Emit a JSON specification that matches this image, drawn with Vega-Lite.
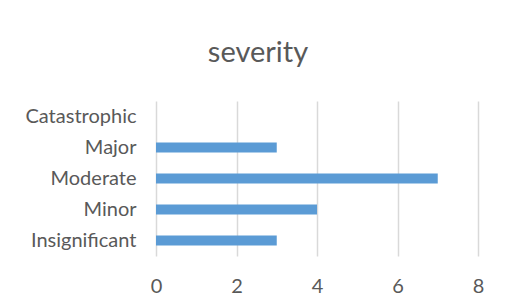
{
  "$schema": "https://vega.github.io/schema/vega-lite/v6.json",
  "autosize": {"type": "none"},
  "padding": {"left": 156, "top": 101, "right": 29, "bottom": 51},
  "width": 322,
  "height": 155,
  "background": "white",
  "title": {
    "text": "severity",
    "anchor": "middle",
    "frame": "group",
    "dx": -59,
    "offset": 10,
    "baseline": "alphabetic",
    "font": "Lato",
    "fontSize": 29,
    "fontWeight": "normal",
    "color": "#595959"
  },
  "data": {
    "values": [
      {"severity": "Catastrophic", "count": 0},
      {"severity": "Major", "count": 3},
      {"severity": "Moderate", "count": 7},
      {"severity": "Minor", "count": 4},
      {"severity": "Insignificant", "count": 3}
    ]
  },
  "mark": {"type": "bar", "color": "#5b9bd5", "size": 10},
  "encoding": {
    "y": {
      "field": "severity",
      "type": "nominal",
      "sort": ["Catastrophic", "Major", "Moderate", "Minor", "Insignificant"],
      "axis": {
        "title": null,
        "domain": false,
        "ticks": false,
        "labelPadding": 20,
        "labelFont": "Lato",
        "labelFontSize": 20,
        "labelColor": "#595959"
      }
    },
    "x": {
      "field": "count",
      "type": "quantitative",
      "scale": {"domain": [0, 8], "nice": false},
      "axis": {
        "title": null,
        "values": [0, 2, 4, 6, 8],
        "domain": false,
        "ticks": false,
        "grid": true,
        "gridColor": "#d9d9d9",
        "gridWidth": 1.5,
        "labelFlush": false,
        "labelPadding": 20,
        "labelFont": "Lato",
        "labelFontSize": 20,
        "labelColor": "#595959"
      }
    }
  },
  "config": {"view": {"stroke": null}}
}
